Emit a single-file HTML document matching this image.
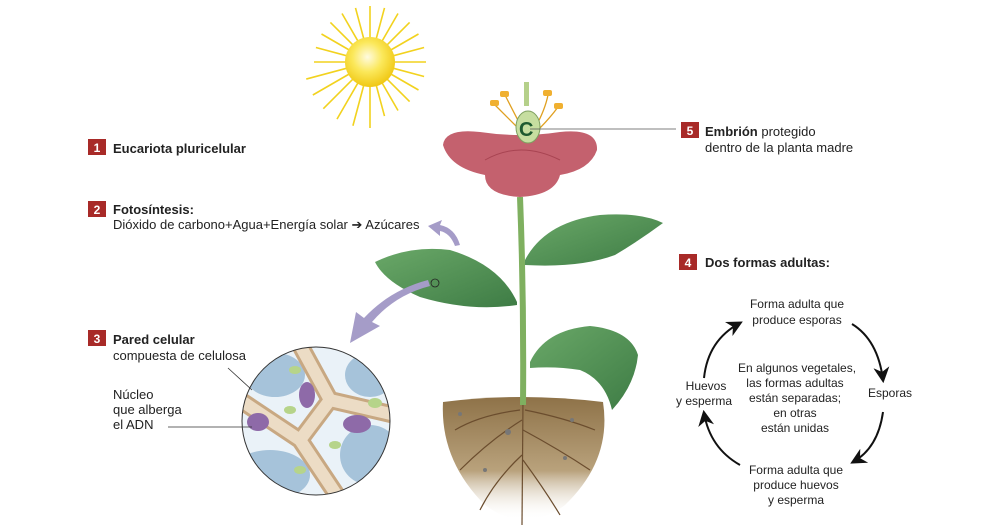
<!DOCTYPE html>
<html><head><meta charset="utf-8"><style>
html,body{margin:0;padding:0;background:#fff}
svg{display:block}
text{font-family:"Liberation Sans",sans-serif;fill:#222}
.b{font-weight:bold}
.n{fill:#fff;font-weight:bold;font-size:12px}
</style></head><body>
<svg width="1000" height="532" viewBox="0 0 1000 532" xmlns="http://www.w3.org/2000/svg">
<defs>
<radialGradient id="sun" cx="0.45" cy="0.4" r="0.6"><stop offset="0" stop-color="#fffbe0"/><stop offset="0.5" stop-color="#fbe85a"/><stop offset="1" stop-color="#f0c814"/></radialGradient>
<linearGradient id="leaf" x1="0" y1="0" x2="1" y2="1"><stop offset="0" stop-color="#6aa868"/><stop offset="1" stop-color="#3e7c45"/></linearGradient>
<linearGradient id="soil" x1="0" y1="0" x2="0" y2="1"><stop offset="0" stop-color="#8e7248"/><stop offset="0.6" stop-color="#b9a27c"/><stop offset="1" stop-color="#fff" stop-opacity="0"/></linearGradient>
<clipPath id="cc"><circle cx="316" cy="421" r="74"/></clipPath>
<marker id="ah" viewBox="0 0 10 10" refX="8" refY="5" markerWidth="8" markerHeight="8" orient="auto"><path d="M0,0 L10,5 L0,10 L3,5z" fill="#111"/></marker>
</defs>

<!-- sun -->
<g transform="translate(370,62)" stroke="#f2d21e" stroke-width="1.6">
<g id="rays">
<line x1="0" y1="-22" x2="0" y2="-56"/><line x1="0" y1="22" x2="0" y2="66"/>
<line x1="-22" y1="0" x2="-56" y2="0"/><line x1="22" y1="0" x2="56" y2="0"/>
</g>
<use href="#rays" transform="rotate(15)"/><use href="#rays" transform="rotate(30)"/><use href="#rays" transform="rotate(45)"/><use href="#rays" transform="rotate(60)"/><use href="#rays" transform="rotate(75)"/>
<circle r="25" fill="url(#sun)" stroke="none"/>
</g>

<!-- soil -->
<path d="M443,402 Q520,392 603,402 Q612,460 565,505 Q525,535 485,505 Q440,460 443,402z" fill="url(#soil)"/>
<g stroke="#6b4d2e" stroke-width="1.2" fill="none">
<path d="M523,400 L522,525"/><path d="M522,420 Q490,440 460,470"/><path d="M523,430 Q560,450 590,470"/>
<path d="M522,455 Q495,480 480,510"/><path d="M523,460 Q545,490 560,515"/><path d="M520,410 Q480,415 455,430"/><path d="M525,410 Q565,418 595,430"/>
</g>
<g fill="#777"><circle cx="508" cy="432" r="3"/><circle cx="460" cy="414" r="2"/><circle cx="572" cy="420" r="2"/><circle cx="565" cy="458" r="2"/><circle cx="485" cy="470" r="2"/></g>

<!-- stem -->
<path d="M520,197 Q524,300 523,405" stroke="#7fb060" stroke-width="6" fill="none"/>
<!-- leaves -->
<path d="M525,260 Q545,222 600,215 Q640,212 663,223 Q640,240 615,255 Q580,268 525,265z" fill="url(#leaf)"/>
<path d="M517,302 Q500,265 450,250 Q410,245 375,262 Q385,282 420,297 Q470,312 517,305z" fill="url(#leaf)"/>
<path d="M530,362 Q545,330 590,326 Q630,330 638,355 Q635,385 612,410 Q605,380 580,370 Q555,366 530,368z" fill="url(#leaf)"/>
<circle cx="435" cy="283" r="4" fill="none" stroke="#222" stroke-width="0.8"/>

<!-- purple arrows -->
<path d="M460,245 Q455,228 440,225 L442,220 L428,226 L440,236 L440,231 Q450,233 455,246z" fill="#a59cc8"/>
<path d="M430,286 Q395,295 372,322 L380,326 L350,343 L356,312 L364,318 Q390,290 428,280z" fill="#a59cc8"/>

<!-- flower -->
<g stroke="#e0a020" stroke-width="1.3" fill="none">
<path d="M520,130 Q505,115 495,105"/><path d="M522,128 Q510,105 505,95"/><path d="M535,128 Q545,110 548,95"/><path d="M538,130 Q550,118 558,107"/>
</g>
<g fill="#f0b030"><rect x="490" y="100" width="9" height="6" rx="2"/><rect x="500" y="91" width="9" height="6" rx="2"/><rect x="543" y="90" width="9" height="6" rx="2"/><rect x="554" y="103" width="9" height="6" rx="2"/></g>
<path d="M443,145 Q445,128 480,132 Q520,138 560,132 Q598,128 597,150 Q590,170 560,175 Q555,195 520,197 Q485,195 485,175 Q450,168 443,145z" fill="#c4616e"/>
<path d="M485,160 Q520,140 560,160" stroke="#a84452" fill="none"/>
<rect x="524" y="82" width="5" height="24" fill="#b5d08a"/>
<ellipse cx="528" cy="127" rx="12" ry="16" fill="#c6dea0" stroke="#7ea060"/>
<text x="519" y="136" font-size="20" font-weight="bold" style="fill:#1e5a30">C</text>
<line x1="530" y1="129" x2="676" y2="129" stroke="#555" stroke-width="0.8"/>

<!-- cell -->
<g clip-path="url(#cc)">
<rect x="240" y="345" width="155" height="155" fill="#eaf2f8"/>
<g fill="#a6c3da"><ellipse cx="275" cy="375" rx="30" ry="22"/><ellipse cx="370" cy="375" rx="25" ry="22"/><ellipse cx="270" cy="475" rx="40" ry="25"/><ellipse cx="370" cy="455" rx="30" ry="30"/></g>
<path d="M240,400 L300,440 L340,500 M300,440 L330,400 L395,415 M330,400 L300,345" stroke="#c8a882" stroke-width="18" fill="none"/>
<path d="M240,400 L300,440 L340,500 M300,440 L330,400 L395,415 M330,400 L300,345" stroke="#ecdcc5" stroke-width="12" fill="none"/>
<g fill="#8e6aa8"><ellipse cx="307" cy="395" rx="8" ry="13"/><ellipse cx="357" cy="424" rx="14" ry="9"/><ellipse cx="258" cy="422" rx="11" ry="9"/></g>
<g fill="#b6d48a"><ellipse cx="295" cy="370" rx="6" ry="4"/><ellipse cx="290" cy="410" rx="6" ry="4"/><ellipse cx="375" cy="403" rx="7" ry="5"/><ellipse cx="335" cy="445" rx="6" ry="4"/><ellipse cx="300" cy="470" rx="6" ry="4"/></g>
</g>
<circle cx="316" cy="421" r="74" fill="none" stroke="#333" stroke-width="1"/>
<line x1="228" y1="368" x2="252" y2="390" stroke="#333" stroke-width="0.8"/>
<line x1="168" y1="427" x2="252" y2="427" stroke="#333" stroke-width="0.8"/>

<!-- labels -->
<rect x="88" y="139" width="18" height="16" fill="#a82a28"/><text x="97" y="152" class="n" text-anchor="middle">1</text>
<text x="113" y="153" class="b" font-size="13">Eucariota pluricelular</text>
<rect x="88" y="201" width="18" height="16" fill="#a82a28"/><text x="97" y="214" class="n" text-anchor="middle">2</text>
<text x="113" y="214" class="b" font-size="13">Fotosíntesis:</text>
<text x="113" y="229" font-size="13">Dióxido de carbono+Agua+Energía solar ➔ Azúcares</text>
<rect x="88" y="330" width="18" height="16" fill="#a82a28"/><text x="97" y="343" class="n" text-anchor="middle">3</text>
<text x="113" y="344" class="b" font-size="13">Pared celular</text>
<text x="113" y="360" font-size="13">compuesta de celulosa</text>
<text x="113" y="399" font-size="13">Núcleo</text>
<text x="113" y="414" font-size="13">que alberga</text>
<text x="113" y="429" font-size="13">el ADN</text>

<rect x="681" y="122" width="18" height="16" fill="#a82a28"/><text x="690" y="135" class="n" text-anchor="middle">5</text>
<text x="705" y="136" font-size="13"><tspan class="b">Embrión</tspan> protegido</text>
<text x="705" y="152" font-size="13">dentro de la planta madre</text>
<rect x="679" y="254" width="18" height="16" fill="#a82a28"/><text x="688" y="267" class="n" text-anchor="middle">4</text>
<text x="705" y="267" class="b" font-size="13">Dos formas adultas:</text>

<g font-size="12" text-anchor="middle">
<text x="797" y="308">Forma adulta que</text><text x="797" y="324">produce esporas</text>
<text x="797" y="372">En algunos vegetales,</text><text x="795" y="387">las formas adultas</text><text x="795" y="402">están separadas;</text><text x="795" y="417">en otras</text><text x="795" y="432">están unidas</text>
<text x="706" y="390">Huevos</text><text x="704" y="405">y esperma</text>
<text x="890" y="397">Esporas</text>
<text x="796" y="474">Forma adulta que</text><text x="796" y="489">produce huevos</text><text x="796" y="504">y esperma</text>
</g>
<g stroke="#111" stroke-width="2" fill="none" marker-end="url(#ah)">
<path d="M704,378 Q708,340 740,323"/>
<path d="M852,324 Q878,340 883,380"/>
<path d="M883,412 Q878,448 853,462"/>
<path d="M740,465 Q710,448 704,413"/>
</g>
</svg>
</body></html>
